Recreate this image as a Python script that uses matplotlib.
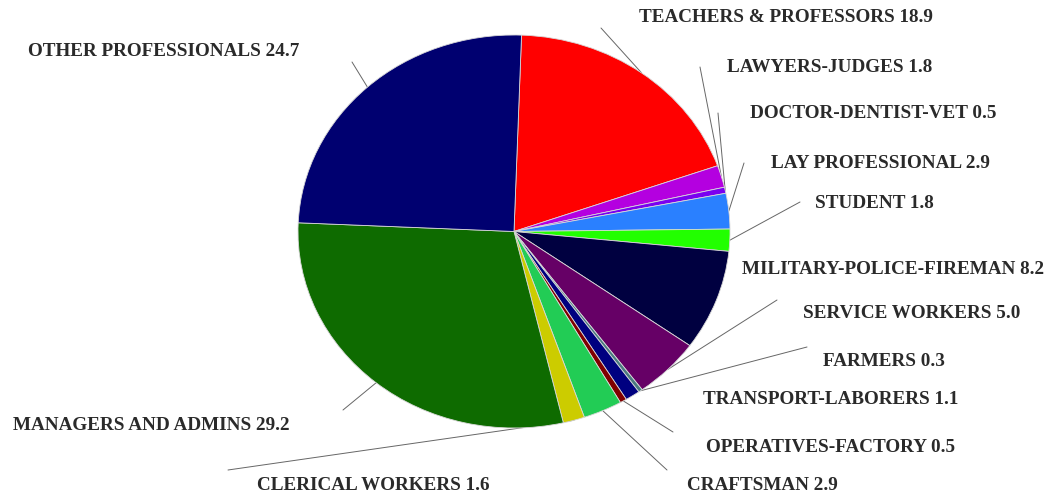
import numpy as np
import matplotlib
matplotlib.use('Agg')
import matplotlib.pyplot as plt

# Occupation shares (%), clockwise from the top
labels = ['TEACHERS & PROFESSORS', 'LAWYERS-JUDGES', 'DOCTOR-DENTIST-VET',
          'LAY PROFESSIONAL', 'STUDENT', 'MILITARY-POLICE-FIREMAN',
          'SERVICE WORKERS', 'FARMERS', 'TRANSPORT-LABORERS',
          'OPERATIVES-FACTORY', 'CRAFTSMAN', 'CLERICAL WORKERS',
          'MANAGERS AND ADMINS', 'OTHER PROFESSIONALS']
values = [18.9, 1.8, 0.5, 2.9, 1.8, 8.2, 5.0, 0.3, 1.1, 0.5, 2.9, 1.6, 29.2, 24.7]
colors = ['#ff0000', '#b400e0', '#7a00f0', '#2a80ff', '#22ff00', '#000040',
          '#660066', '#4a7a80', '#000080', '#800000', '#22cc55', '#cccc00',
          '#0e6b00', '#000070']

# label text position (left x, centre y) in image pixels
text_pos = [(639, 17), (727, 68), (750, 114), (771, 163), (815, 203), (742, 270),
            (803, 313), (823, 362), (703, 400), (706, 447), (687, 486), (257, 486),
            (13, 425), (28, 51)]
# leader line start (label side) in image pixels, None = no line
line_start = [(601, 28), (700, 67), (718, 113), (744, 163), (800, 202), None,
              (777, 300), (807, 347), None, (673, 432), (667, 470), (228, 470),
              (343, 410), (352, 62)]

W, H = 1055, 499
fig = plt.figure(figsize=(W / 100, H / 100), dpi=100)

# elliptical pie: centre (514, 231.5), radii 216 x 196.5 px
cx, cy, rx, ry = 514, 231.5, 216, 196.5
ax = fig.add_axes([(cx - rx) / W, (H - cy - ry) / H, 2 * rx / W, 2 * ry / H])

start = 88
wedges, _ = ax.pie(values, colors=colors, startangle=start, counterclock=False,
                   radius=1, wedgeprops=dict(edgecolor='#d8d8d8', linewidth=0.6))
ax.set_aspect('auto')
ax.set_xlim(-1, 1)
ax.set_ylim(-1, 1)

total = sum(values)
cum = np.cumsum([0] + values[:-1])
for i, (lab, v) in enumerate(zip(labels, values)):
    mid = np.deg2rad(start - (cum[i] + v / 2) / total * 360)
    px, py = text_pos[i]
    fig.text(px / W, 1 - py / H, f'{lab} {v:.1f}', ha='left', va='center',
             fontsize=13.8, fontweight='bold', family='Liberation Serif',
             color='#2a2a2a')
    if line_start[i] is not None:
        sx, sy = line_start[i]
        ax.annotate('', xy=(np.cos(mid), np.sin(mid)),
                    xytext=(sx, H - sy), textcoords='figure pixels',
                    arrowprops=dict(arrowstyle='-', color='#666666', lw=0.7,
                                    shrinkA=0, shrinkB=0),
                    zorder=0, annotation_clip=False)

fig.savefig('out.png', dpi=100)
